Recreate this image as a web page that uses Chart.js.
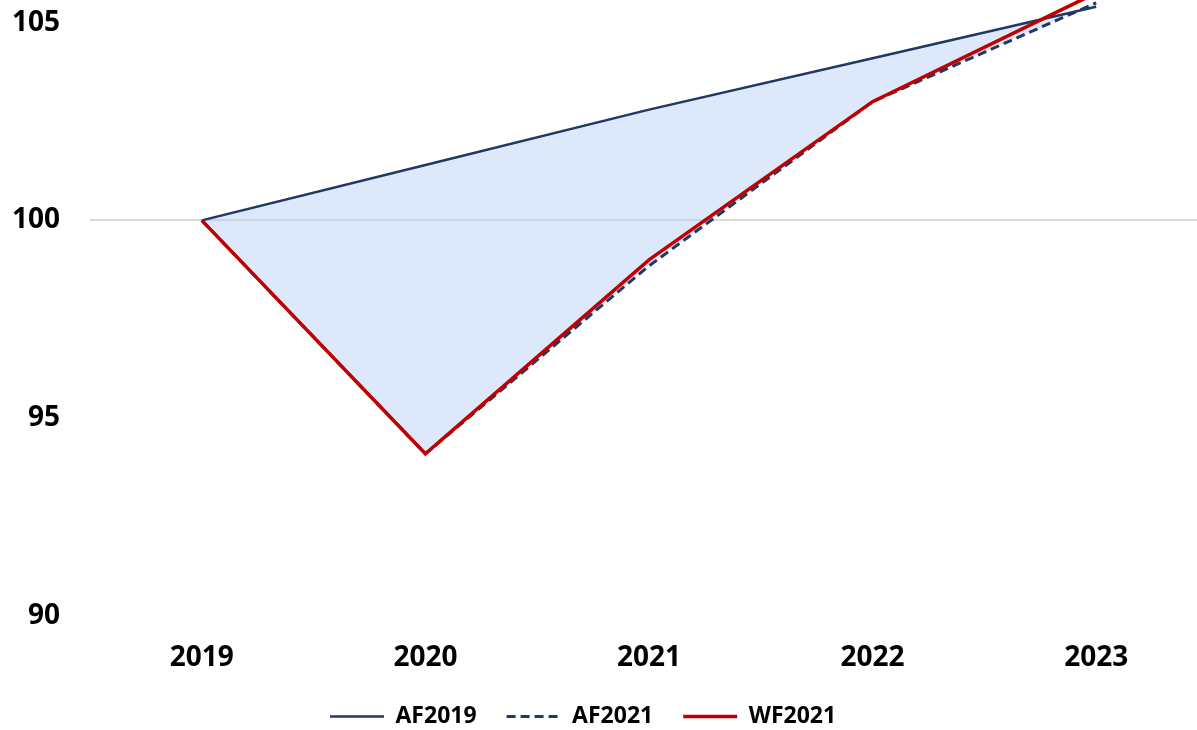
<!DOCTYPE html>
<html>
<head>
<meta charset="utf-8">
<script src="https://cdn.jsdelivr.net/npm/chart.js@4/dist/chart.umd.min.js"></script>
<style>
  html, body { margin: 0; padding: 0; background: #fff; overflow: hidden; }
  body { width: 1197px; height: 730px; position: relative; }
  #wrap { position: absolute; left: 0; top: -37px; width: 1208px; height: 775px; }
</style>
</head>
<body>
<div id="wrap"><canvas id="myChart"></canvas></div>
<script>
// values
const years = ['2019', '2020', '2021', '2022', '2023'];
const af2019 = [100, 101.4, 102.8, 104.1, 105.4];
const af2021 = [100, 94.1, 98.85, 103.0, 105.5];
const wf2021 = [100, 94.1, 99.0, 103.0, 105.75];

const navy = '#1f3864';
const red = '#c00000';
const tickFont = { family: "'Open Sans', sans-serif", size: 28, weight: 'bold' };

// shift the legend row so it starts where it does in the picture
const legendNudge = {
    id: 'legendNudge',
    afterLayout(chart) {
        if (chart.legend) chart.legend.left = 300;
    }
};

const ctx = document.getElementById('myChart').getContext('2d');
const chart = new Chart(ctx, {
    type: 'line',
    data: {
        labels: years,
        datasets: [
            {
                label: 'AF2019',
                data: af2019,
                borderColor: navy,
                borderWidth: 2.5,
                backgroundColor: 'rgba(180, 205, 243, 0.45)',
                fill: '+1',
                order: 1
            },
            {
                label: 'AF2021',
                data: af2021,
                borderColor: navy,
                borderWidth: 3,
                borderDash: [9, 5],
                backgroundColor: navy,
                fill: false,
                order: 2
            },
            {
                label: 'WF2021',
                data: wf2021,
                borderColor: red,
                borderWidth: 3.5,
                backgroundColor: red,
                fill: false,
                order: 0
            }
        ]
    },
    options: {
        responsive: true,
        maintainAspectRatio: false,
        animation: false,
        layout: { padding: { top: 20, left: 0, right: 0, bottom: 0 } },
        elements: {
            point: { radius: 0, hoverRadius: 0 },
            line: { tension: 0 }
        },
        scales: {
            x: {
                offset: true,
                afterFit(scale) { scale.height = 59; },
                grid: { display: false, drawTicks: false },
                border: { display: false },
                ticks: { color: '#000', font: tickFont, padding: 25, maxRotation: 0 }
            },
            y: {
                min: 90,
                max: 106,
                afterFit(scale) {
                    scale.width = 90;
                    scale.paddingTop = 0;
                    scale.paddingBottom = 0;
                },
                grid: {
                    drawTicks: false,
                    lineWidth: 2,
                    color: (c) => (c.tick && c.tick.value === 100 ? '#d9d9d9' : 'rgba(0,0,0,0)')
                },
                border: { display: false },
                ticks: { stepSize: 5, includeBounds: false, color: '#000', font: tickFont, padding: 30 }
            }
        },
        plugins: {
            filler: { drawTime: 'beforeDatasetsDraw' },
            tooltip: { enabled: false },
            legend: {
                position: 'bottom',
                align: 'start',
                labels: {
                    usePointStyle: true,
                    pointStyle: 'line',
                    pointStyleWidth: 54,
                    padding: 30,
                    color: '#000',
                    font: { family: "'Open Sans', sans-serif", size: 23, weight: 'bold' },
                    sort: (a, b) => a.datasetIndex - b.datasetIndex,
                    generateLabels(chart) {
                        const items = Chart.defaults.plugins.legend.labels.generateLabels(chart);
                        items.forEach((it) => {
                            const ds = chart.data.datasets[it.datasetIndex];
                            it.strokeStyle = ds.borderColor;
                            it.lineWidth = ds.borderWidth;
                            it.lineDash = ds.borderDash || [];
                        });
                        return items;
                    }
                }
            }
        }
    },
    plugins: [legendNudge]
});
</script>
</body>
</html>
